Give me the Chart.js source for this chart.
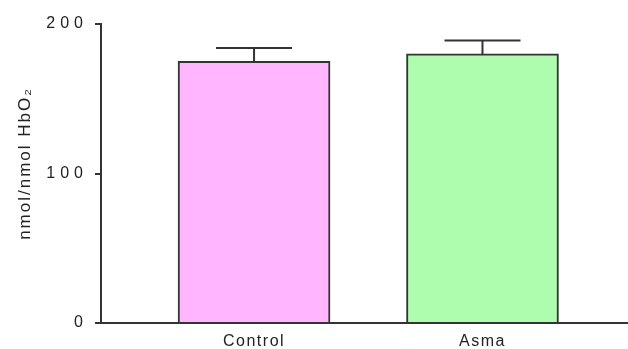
<!DOCTYPE html>
<html>
<head>
<meta charset="utf-8">
<script src="https://cdn.jsdelivr.net/npm/chart.js@4/dist/chart.umd.min.js"></script>
<style>
  html, body { margin: 0; padding: 0; background: #fff; }
  #wrap { width: 628px; height: 349px; position: relative; }
</style>
</head>
<body>
<div id="wrap"><canvas id="chart"></canvas></div>
<script>
// Group names, mean values and SEM for each bar
const groups = ['Control', 'Asma'];
const meanValues = [175, 180];
const semValues = [9, 9];
const yTicks = [0, 100, 200];

const INK = '#333333';

// Adds letter spacing to an axis' tick labels and title
const spacedAxisText = {
  id: 'spacedAxisText',
  beforeDraw(chart, args, opts) {
    for (const id of Object.keys(opts)) {
      const s = chart.scales[id];
      if (!s || s._spacedPatched) continue;
      const cfg = opts[id];
      const drawLabels = s.drawLabels.bind(s);
      const drawTitle = s.drawTitle.bind(s);
      s.drawLabels = (area) => {
        const c = s.ctx; c.save(); c.letterSpacing = cfg.labels; drawLabels(area); c.restore();
      };
      s.drawTitle = () => {
        const c = s.ctx; c.save(); c.letterSpacing = cfg.title;
        c.translate(0, cfg.titleShift || 0); drawTitle(); c.restore();
      };
      s._spacedPatched = true;
    }
  }
};

// SEM whiskers above each bar
const semWhiskers = {
  id: 'semWhiskers',
  afterDatasetsDraw(chart) {
    const ctx = chart.ctx;
    const yScale = chart.scales.y;
    const meta = chart.getDatasetMeta(0);
    ctx.save();
    ctx.strokeStyle = INK;
    ctx.lineWidth = 2;
    meta.data.forEach((bar, i) => {
      const top = yScale.getPixelForValue(meanValues[i] + semValues[i]);
      const capHalf = 38;
      ctx.beginPath();
      ctx.moveTo(bar.x, bar.y);
      ctx.lineTo(bar.x, top);
      ctx.moveTo(bar.x - capHalf, top);
      ctx.lineTo(bar.x + capHalf, top);
      ctx.stroke();
    });
    ctx.restore();
  }
};

new Chart(document.getElementById('chart'), {
  type: 'bar',
  data: {
    datasets: [{
      data: meanValues.map((v, i) => ({ x: i + 1, y: v })),
      backgroundColor: ['#FFB6FF', '#AEFCAE'],
      borderColor: INK,
      borderWidth: 2,
      barThickness: 152
    }]
  },
  options: {
    responsive: true,
    maintainAspectRatio: false,
    animation: false,
    layout: { padding: { top: 24, right: 0, left: 0, bottom: 0 } },
    plugins: {
      legend: { display: false },
      tooltip: { enabled: false },
      spacedAxisText: {
        x: { labels: '1.5px', title: '0px' },
        y: { labels: '5px', title: '2px', titleShift: -10 }
      }
    },
    scales: {
      x: {
        type: 'linear',
        min: 0.33,
        max: 2.637,
        offset: false,
        bounds: 'ticks',
        z: 1,
        grid: { display: false, drawTicks: false, offset: false },
        border: { display: true, color: INK, width: 2 },
        afterBuildTicks: (s) => { s.ticks = groups.map((_, i) => ({ value: i + 1 })); },
        afterFit: (s) => { s.height = 26; },
        ticks: {
          autoSkip: false,
          maxRotation: 0,
          padding: 9,
          color: '#222',
          font: { family: '"Liberation Sans", Arial, sans-serif', size: 16 },
          callback: (v) => groups[Math.round(v) - 1] || ''
        }
      },
      y: {
        min: 0,
        max: 200,
        afterBuildTicks: (s) => { s.ticks = yTicks.map(v => ({ value: v })); },
        afterFit: (s) => { s.width = 101; },
        grid: { drawOnChartArea: false, drawTicks: true, tickLength: 6, color: INK, lineWidth: 2 },
        border: { display: true, color: INK, width: 2 },
        ticks: {
          padding: 7,
          color: '#222',
          font: { family: '"Liberation Sans", Arial, sans-serif', size: 16 }
        },
        title: {
          display: true,
          text: 'nmol/nmol HbO₂',
          color: '#222',
          padding: { top: 15, bottom: 0 },
          font: { family: '"Liberation Sans", Arial, sans-serif', size: 17 }
        }
      }
    }
  },
  plugins: [spacedAxisText, semWhiskers]
});
</script>
</body>
</html>
